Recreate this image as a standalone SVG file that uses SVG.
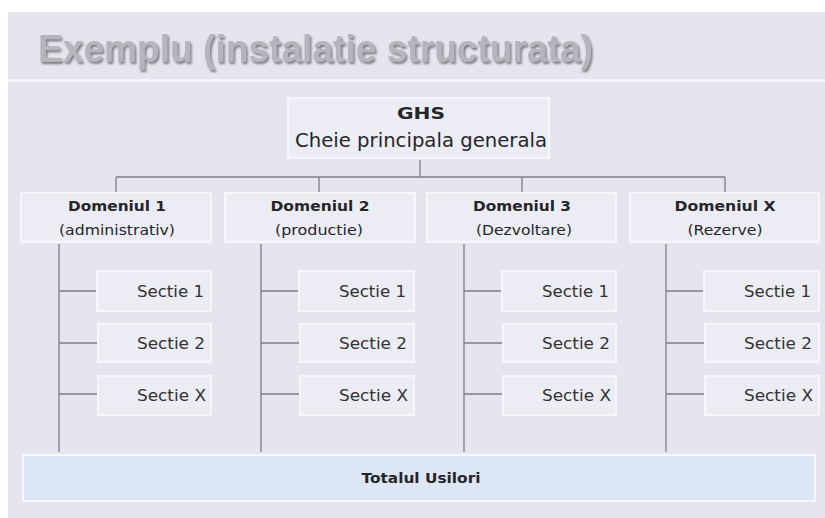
<svg xmlns="http://www.w3.org/2000/svg" width="825" height="518" viewBox="0 0 825 518">
<defs>
<style>
.box{fill:#ececf4;stroke:#f7f7fb;stroke-width:2}
.line{stroke:#7d7c84;stroke-width:1.3;fill:none}
.t{font-family:"DejaVu Sans","Liberation Sans",Arial,sans-serif;fill:#26262a}
.title{font-family:"Liberation Sans",Arial,sans-serif;font-weight:bold;font-size:38px;fill:#b6b5bd}
.b{font-weight:bold}
.dom{font-size:14.5px;text-anchor:middle}
.sec{font-size:15.5px;text-anchor:end;fill:#333}
</style>
<filter id="sh" x="-5%" y="-20%" width="110%" height="150%">
<feDropShadow dx="1.5" dy="2" stdDeviation="1" flood-color="#555" flood-opacity="0.75"/>
</filter>
</defs>
<rect x="0" y="0" width="825" height="518" fill="#ffffff"/>
<rect x="8" y="12" width="817" height="506" fill="#e6e5ef"/>
<rect x="8" y="79" width="817" height="3" fill="#f4f4f9"/>
<text x="38" y="62" class="title" textLength="555" lengthAdjust="spacingAndGlyphs" filter="url(#sh)">Exemplu (instalatie structurata)</text>

<g id="connectors">
<line class="line" x1="420" y1="160" x2="420" y2="177"/>
<line class="line" x1="116" y1="177" x2="725" y2="177"/>
<line class="line" x1="116" y1="177" x2="116" y2="192"/>
<line class="line" x1="319" y1="177" x2="319" y2="192"/>
<line class="line" x1="522" y1="177" x2="522" y2="192"/>
<line class="line" x1="725" y1="177" x2="725" y2="192"/>
<line class="line" x1="59" y1="244" x2="59" y2="452"/>
<line class="line" x1="261" y1="244" x2="261" y2="452"/>
<line class="line" x1="464" y1="244" x2="464" y2="452"/>
<line class="line" x1="666" y1="244" x2="666" y2="452"/>
<line class="line" x1="59" y1="291" x2="97" y2="291"/>
<line class="line" x1="59" y1="343" x2="97" y2="343"/>
<line class="line" x1="59" y1="394" x2="97" y2="394"/>
<line class="line" x1="261" y1="291" x2="299" y2="291"/>
<line class="line" x1="261" y1="343" x2="299" y2="343"/>
<line class="line" x1="261" y1="394" x2="299" y2="394"/>
<line class="line" x1="464" y1="291" x2="502" y2="291"/>
<line class="line" x1="464" y1="343" x2="502" y2="343"/>
<line class="line" x1="464" y1="394" x2="502" y2="394"/>
<line class="line" x1="666" y1="291" x2="704" y2="291"/>
<line class="line" x1="666" y1="343" x2="704" y2="343"/>
<line class="line" x1="666" y1="394" x2="704" y2="394"/>
</g>

<g id="ghs">
<rect class="box" x="288" y="98" width="261" height="60"/>
<text x="421" y="119" class="t b" font-size="16" text-anchor="middle" textLength="48" lengthAdjust="spacingAndGlyphs">GHS</text>
<text x="421" y="147" class="t" font-size="19" text-anchor="middle" textLength="252" lengthAdjust="spacingAndGlyphs">Cheie principala generala</text>
</g>

<g id="dom1">
<rect class="box" x="21" y="193" width="190" height="49"/>
<text x="117" y="211" class="t b dom" textLength="98" lengthAdjust="spacingAndGlyphs">Domeniul 1</text>
<text x="117" y="235" class="t dom" textLength="116" lengthAdjust="spacingAndGlyphs">(administrativ)</text>
</g>
<g id="dom2">
<rect class="box" x="225" y="193" width="190" height="49"/>
<text x="320" y="211" class="t b dom" textLength="99" lengthAdjust="spacingAndGlyphs">Domeniul 2</text>
<text x="319" y="235" class="t dom" textLength="88" lengthAdjust="spacingAndGlyphs">(productie)</text>
</g>
<g id="dom3">
<rect class="box" x="427" y="193" width="189" height="49"/>
<text x="522" y="211" class="t b dom" textLength="98" lengthAdjust="spacingAndGlyphs">Domeniul 3</text>
<text x="524" y="235" class="t dom" textLength="96" lengthAdjust="spacingAndGlyphs">(Dezvoltare)</text>
</g>
<g id="domX">
<rect class="box" x="630" y="193" width="189" height="49"/>
<text x="725" y="211" class="t b dom" textLength="101" lengthAdjust="spacingAndGlyphs">Domeniul X</text>
<text x="725" y="235" class="t dom" textLength="75" lengthAdjust="spacingAndGlyphs">(Rezerve)</text>
</g>

<g id="d1s1"><rect class="box" x="97" y="271" width="114" height="40"/><text x="204" y="297" class="t sec" textLength="67" lengthAdjust="spacingAndGlyphs">Sectie 1</text></g>
<g id="d1s2"><rect class="box" x="98" y="324" width="113" height="38"/><text x="205" y="349" class="t sec" textLength="68" lengthAdjust="spacingAndGlyphs">Sectie 2</text></g>
<g id="d1sX"><rect class="box" x="98" y="376" width="113" height="39"/><text x="206" y="401" class="t sec" textLength="69" lengthAdjust="spacingAndGlyphs">Sectie X</text></g>

<g id="d2s1"><rect class="box" x="299" y="271" width="115" height="40"/><text x="406" y="297" class="t sec" textLength="67" lengthAdjust="spacingAndGlyphs">Sectie 1</text></g>
<g id="d2s2"><rect class="box" x="300" y="324" width="114" height="38"/><text x="407" y="349" class="t sec" textLength="68" lengthAdjust="spacingAndGlyphs">Sectie 2</text></g>
<g id="d2sX"><rect class="box" x="300" y="376" width="114" height="39"/><text x="408" y="401" class="t sec" textLength="69" lengthAdjust="spacingAndGlyphs">Sectie X</text></g>

<g id="d3s1"><rect class="box" x="502" y="271" width="114" height="40"/><text x="609" y="297" class="t sec" textLength="67" lengthAdjust="spacingAndGlyphs">Sectie 1</text></g>
<g id="d3s2"><rect class="box" x="503" y="324" width="113" height="38"/><text x="610" y="349" class="t sec" textLength="68" lengthAdjust="spacingAndGlyphs">Sectie 2</text></g>
<g id="d3sX"><rect class="box" x="503" y="376" width="113" height="39"/><text x="611" y="401" class="t sec" textLength="69" lengthAdjust="spacingAndGlyphs">Sectie X</text></g>

<g id="dXs1"><rect class="box" x="704" y="271" width="115" height="40"/><text x="811" y="297" class="t sec" textLength="67" lengthAdjust="spacingAndGlyphs">Sectie 1</text></g>
<g id="dXs2"><rect class="box" x="705" y="324" width="114" height="38"/><text x="812" y="349" class="t sec" textLength="68" lengthAdjust="spacingAndGlyphs">Sectie 2</text></g>
<g id="dXsX"><rect class="box" x="705" y="376" width="114" height="39"/><text x="813" y="401" class="t sec" textLength="69" lengthAdjust="spacingAndGlyphs">Sectie X</text></g>

<g id="total">
<rect x="23" y="455" width="792" height="46" fill="#dde6f4" stroke="#f7f8fc" stroke-width="2"/>
<text x="421" y="483" class="t b" font-size="14.5" text-anchor="middle" textLength="119" lengthAdjust="spacingAndGlyphs">Totalul Usilori</text>
</g>
</svg>
